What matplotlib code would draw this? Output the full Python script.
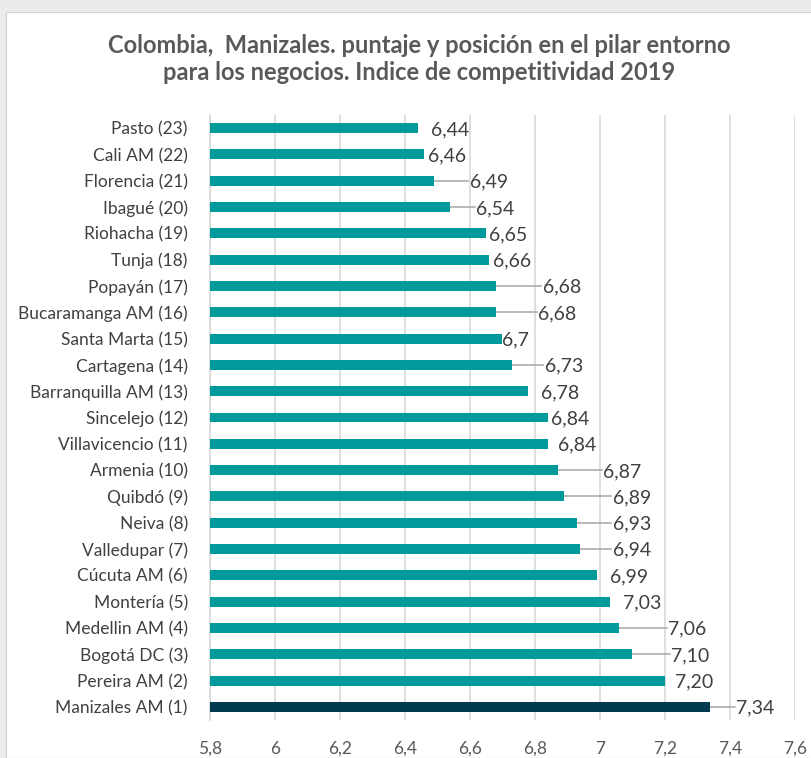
import matplotlib
matplotlib.use("Agg")
import matplotlib.pyplot as plt
from matplotlib.patches import Rectangle

plt.rcParams['font.family'] = ['Lato', 'DejaVu Sans']

ciudades = ["Pasto (23)", "Cali AM (22)", "Florencia (21)", "Ibagué (20)",
            "Riohacha (19)", "Tunja (18)", "Popayán (17)", "Bucaramanga AM (16)",
            "Santa Marta (15)", "Cartagena (14)", "Barranquilla AM (13)",
            "Sincelejo (12)", "Villavicencio (11)", "Armenia (10)", "Quibdó (9)",
            "Neiva (8)", "Valledupar (7)", "Cúcuta AM (6)", "Montería (5)",
            "Medellin AM (4)", "Bogotá DC (3)", "Pereira AM (2)", "Manizales AM (1)"]
puntaje = [6.44, 6.46, 6.49, 6.54, 6.65, 6.66, 6.68, 6.68, 6.70, 6.73, 6.78,
           6.84, 6.84, 6.87, 6.89, 6.93, 6.94, 6.99, 7.03, 7.06, 7.10, 7.20, 7.34]
etiquetas = ["6,44", "6,46", "6,49", "6,54", "6,65", "6,66", "6,68", "6,68",
             "6,7", "6,73", "6,78", "6,84", "6,84", "6,87", "6,89", "6,93",
             "6,94", "6,99", "7,03", "7,06", "7,10", "7,20", "7,34"]
ticks = [5.8, 6.0, 6.2, 6.4, 6.6, 6.8, 7.0, 7.2, 7.4, 7.6]
tick_labels = ["5,8", "6", "6,2", "6,4", "6,6", "6,8", "7", "7,2", "7,4", "7,6"]

# where Excel left the labels after dragging them (gap from bar end, data units)
desplaz = [0.04, 0.01, 0.11, 0.08, 0.01, 0.01, 0.145, 0.13, 0.0, 0.10, 0.04,
           0.01, 0.03, 0.14, 0.15, 0.11, 0.10, 0.04, 0.04, 0.15, 0.12, 0.03, 0.08]
con_linea = [False, False, True, True, False, False, True, True, False, True, False,
             False, False, True, True, True, True, False, False, True, True, False, True]

teal = "#009a9a"
oscuro = "#003b52"
gris_txt = "#404040"

fig = plt.figure(figsize=(8.12, 7.58), dpi=100)
fig.patch.set_facecolor("#ebebeb")
fig.patches.append(Rectangle((6 / 812, 0), 1, 1 - 12 / 758, transform=fig.transFigure,
                             facecolor="white", edgecolor="#d0d0d0", lw=0.8, zorder=-5))

ax = fig.add_axes([210 / 812, 1 - 720 / 758, (795 - 210) / 812, (720 - 115) / 758])
ax.set_facecolor("none")

y = list(range(len(ciudades)))
colores = [teal] * (len(ciudades) - 1) + [oscuro]
ax.barh(y, [p - 5.8 for p in puntaje], left=5.8, height=0.38, color=colores, zorder=3)

for i, (p, t) in enumerate(zip(puntaje, etiquetas)):
    xl = p + desplaz[i]
    if con_linea[i]:
        ax.plot([p, xl - 0.005], [i, i], color="#a6a6a6", lw=1.1, zorder=2)
    ax.text(xl, i + 0.05, t, va="center", ha="left", fontsize=14, color=gris_txt, zorder=4)

ax.set_xlim(5.8, 7.6)
ax.set_ylim(len(ciudades) - 0.5, -0.5)
ax.set_yticks(y)
ax.set_yticklabels(ciudades, fontsize=12.5, color=gris_txt)
ax.set_xticks(ticks)
ax.set_xticklabels(tick_labels, fontsize=12.5, color="#595959")
ax.tick_params(axis="y", length=0, pad=16)
ax.tick_params(axis="x", length=0, pad=15)
ax.grid(axis="x", color="#d9d9d9", lw=1.2, zorder=0)
for s in ["top", "right", "bottom"]:
    ax.spines[s].set_visible(False)
ax.spines["left"].set_color("#d9d9d9")
ax.spines["left"].set_linewidth(1.2)

fig.text(0.516, 1 - 59 / 758, "Colombia,  Manizales. puntaje y posición en el pilar entorno\n"
         "para los negocios. Indice de competitividad 2019",
         ha="center", va="center", fontsize=17, fontweight="bold", color="#595959",
         linespacing=1.25)

fig.savefig("out.png", dpi=100, facecolor=fig.get_facecolor())
